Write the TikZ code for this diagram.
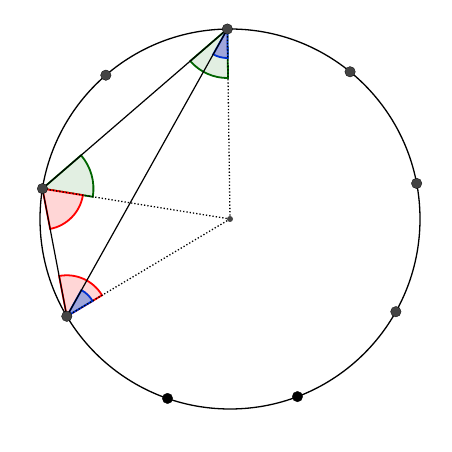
\documentclass[tikz,border=0pt]{standalone}
\usetikzlibrary{calc}
\definecolor{dotgray}{HTML}{444444}
\definecolor{gfill}{HTML}{E2EFE2}
\definecolor{gline}{HTML}{006400}
\definecolor{rfill}{HTML}{FFD6D6}
\definecolor{rline}{HTML}{FF0000}
\definecolor{bfill}{HTML}{A0A6DA}
\definecolor{bline}{HTML}{0030D0}
\tikzset{
  pt/.style={circle,fill=dotgray,draw=black,line width=0.3pt,inner sep=0pt,minimum size=10.5pt},
  ptb/.style={pt,fill=black},
  cdot/.style={circle,fill=dotgray,inner sep=0pt,minimum size=6pt},
  gsec/.style={fill=gfill,draw=gline,line width=1.8pt},
  rsec/.style={fill=rfill,draw=rline,line width=1.8pt},
  bsec/.style={fill=bfill,draw=bline,line width=1.8pt},
  side/.style={line width=1.2pt},
  rad/.style={line width=1.3pt,dotted},
}
\newcommand{\mysector}[5]{% style, from, vertex, to, radius
  \path[#1] let \p1=($(#2)-(#3)$), \p2=($(#4)-(#3)$),
     \n1={atan2(\y1,\x1)}, \n2={atan2(\y2,\x2)} in
     (#3) -- ++(\n1:#5) arc[start angle=\n1, end angle=\n2, radius=#5] -- cycle;}
\begin{document}
\begin{tikzpicture}[x=1pt,y=1pt]
\useasboundingbox (0,0) rectangle (452,452);
\coordinate (O) at (230,233);
\foreach \i in {0,...,8} {
  \coordinate (P\i) at ($(O)+({10.8+40*\i}:190pt)$);
}
% P2 = A (top), P4 = B (left), P5 = D (lower left)
\mysector{gsec}{P4}{P2}{O}{49pt}
\mysector{bsec}{P5}{P2}{O}{29pt}
\mysector{gsec}{O}{P4}{P2}{51pt}
\mysector{rsec}{P5}{P4}{O}{41pt}
\mysector{rsec}{O}{P5}{P4}{41pt}
\mysector{bsec}{O}{P5}{P2}{30pt}
\draw[rad] (O) -- (P2);
\draw[rad] (O) -- (P4);
\draw[rad] (O) -- (P5);
\draw[side] (P2) -- (P4) -- (P5) -- cycle;
\draw[line width=1.3pt] (O) circle[radius=190pt];
\node[cdot] (c) at (O) {};
\foreach \i in {0,1,2,3,4,5,8} { \node[pt] (d\i) at (P\i) {}; }
\foreach \i in {6,7} { \node[ptb] (d\i) at (P\i) {}; }
\end{tikzpicture}
\end{document}
